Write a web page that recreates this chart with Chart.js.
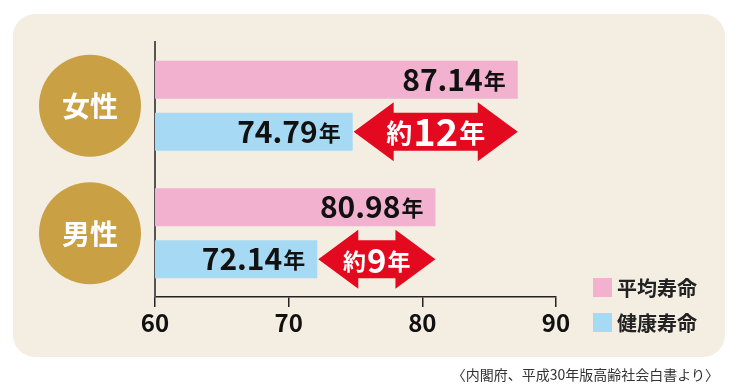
<!DOCTYPE html>
<html>
<head>
<meta charset="utf-8">
<script src="https://cdn.jsdelivr.net/npm/chart.js@4/dist/chart.umd.min.js"></script>
<style>
  html, body { margin: 0; padding: 0; background: #fff; }
  #wrap { position: relative; width: 737px; height: 388px; }
  #note {
    position: absolute; right: 18px; top: 364px;
    font: 14px "Noto Sans CJK JP", sans-serif; color: #333; white-space: nowrap;
  }
</style>
</head>
<body>
<div id="wrap">
  <canvas id="life-bChart" width="737" height="388"></canvas>
  <div id="note">〈内閣府、平成30年版高齢社会白書より〉</div>
</div>
<script>
var genders = ['女性', '男性'];
var seriesNames = ['平均寿命', '健康寿命'];
var avgLife = [87.14, 80.98];
var healthyLife = [74.79, 72.14];
var gapYears = [12, 9];
var xMin = 60, xMax = 90, xStep = 10;

var FONT = '"Noto Sans CJK JP", "Noto Sans", sans-serif';
var PINK = '#f2b2cf';
var BLUE = '#a6d9f3';
var GOLD = '#c9a044';
var RED = '#e3091f';

// beige rounded panel behind everything
var panelPlugin = {
  id: 'panel',
  beforeDraw: function(chart) {
    var ctx = chart.ctx;
    ctx.save();
    ctx.fillStyle = '#f4ede1';
    ctx.beginPath();
    ctx.roundRect(13, 14, 712, 343, 22);
    ctx.fill();
    ctx.restore();
  }
};

function drawValue(ctx, num, right, cy) {
  ctx.textAlign = 'right';
  ctx.textBaseline = 'alphabetic';
  ctx.fillStyle = '#111';
  ctx.font = 'bold 22px ' + FONT;
  ctx.fillText('年', right, cy + 9);
  var w = ctx.measureText('年').width;
  ctx.font = 'bold 30px ' + FONT;
  ctx.fillText(num, right - w - 1, cy + 11);
}

function drawArrow(ctx, x0, x1, cy, shaft, head, headLen) {
  ctx.fillStyle = RED;
  ctx.beginPath();
  ctx.moveTo(x0, cy);
  ctx.lineTo(x0 + headLen, cy - head);
  ctx.lineTo(x0 + headLen, cy - shaft);
  ctx.lineTo(x1 - headLen, cy - shaft);
  ctx.lineTo(x1 - headLen, cy - head);
  ctx.lineTo(x1, cy);
  ctx.lineTo(x1 - headLen, cy + head);
  ctx.lineTo(x1 - headLen, cy + shaft);
  ctx.lineTo(x0 + headLen, cy + shaft);
  ctx.lineTo(x0 + headLen, cy + head);
  ctx.closePath();
  ctx.fill();
}

var decorPlugin = {
  id: 'decor',
  afterDatasetsDraw: function(chart) {
    var ctx = chart.ctx;
    var yScale = chart.scales.y;
    var avgMeta = chart.getDatasetMeta(0);
    var hMeta = chart.getDatasetMeta(1);
    ctx.save();

    // gold circles with gender
    genders.forEach(function(g, i) {
      var cy = yScale.getPixelForValue(i);
      ctx.fillStyle = GOLD;
      ctx.beginPath();
      ctx.arc(90, cy, 51, 0, Math.PI * 2);
      ctx.fill();
      ctx.fillStyle = '#fff';
      ctx.font = 'bold 28px ' + FONT;
      ctx.textAlign = 'center';
      ctx.textBaseline = 'middle';
      ctx.fillText(g, 90, cy + 1);
    });

    // value labels inside bars
    [avgMeta, hMeta].forEach(function(meta, d) {
      var vals = chart.data.datasets[d].data;
      meta.data.forEach(function(bar, i) {
        drawValue(ctx, vals[i].toFixed(2), bar.x - 12, bar.y);
      });
    });

    // red double arrows between healthy and average
    hMeta.data.forEach(function(bar, i) {
      var x0 = bar.x + 1;
      var x1 = avgMeta.data[i].x;
      var cy = bar.y;
      drawArrow(ctx, x0, x1, cy, bar.height / 2, 29.5, 40);

      var big = (x1 - x0) > 150;
      var smallF = big ? 26 : 23;
      var numF = big ? 38 : 33;
      var num = String(gapYears[i]);
      ctx.font = 'bold ' + smallF + 'px ' + FONT;
      var wa = ctx.measureText('約').width;
      var wc = ctx.measureText('年').width;
      ctx.font = 'bold ' + numF + 'px ' + FONT;
      var wb = ctx.measureText(num).width;
      var total = wa + wb + wc + 2;
      var sx = (x0 + x1) / 2 - total / 2;
      ctx.fillStyle = '#fff';
      ctx.textAlign = 'left';
      ctx.textBaseline = 'alphabetic';
      ctx.font = 'bold ' + smallF + 'px ' + FONT;
      ctx.fillText('約', sx, cy + 11);
      ctx.font = 'bold ' + numF + 'px ' + FONT;
      ctx.fillText(num, sx + wa + 1, cy + 14);
      ctx.font = 'bold ' + smallF + 'px ' + FONT;
      ctx.fillText('年', sx + wa + wb + 2, cy + 11);
    });

    // legend, bottom right
    var lx = chart.chartArea.right + 37;
    chart.data.datasets.forEach(function(ds, d) {
      var ly = 278 + d * 35;
      ctx.fillStyle = ds.backgroundColor;
      ctx.fillRect(lx, ly, 19, 19);
      ctx.fillStyle = '#222';
      ctx.font = 'bold 20px ' + FONT;
      ctx.textAlign = 'left';
      ctx.textBaseline = 'middle';
      ctx.fillText(ds.label, lx + 24, ly + 10);
    });

    ctx.restore();
  }
};

var ctx = document.getElementById('life-bChart').getContext('2d');

var lifeChart = new Chart(ctx, {
  type: 'bar',
  data: {
    labels: genders,
    datasets: [
      { label: seriesNames[0], data: avgLife, backgroundColor: PINK },
      { label: seriesNames[1], data: healthyLife, backgroundColor: BLUE }
    ]
  },
  options: {
    indexAxis: 'y',
    responsive: false,
    animation: false,
    categoryPercentage: 0.816,
    barPercentage: 0.731,
    layout: {
      padding: { left: 155, right: 181, top: 42, bottom: 46 }
    },
    plugins: {
      legend: { display: false },  // drawn by hand in the corner
      tooltip: { enabled: false }
    },
    scales: {
      x: {
        min: xMin,
        max: xMax,
        afterFit: function(scale) { scale.height = 45; },
        ticks: {
          stepSize: xStep,
          padding: 1,
          color: '#111',
          font: { family: FONT, size: 24, weight: 'bold' }
        },
        grid: {
          drawOnChartArea: false,
          tickLength: 10,
          color: '#222',
          lineWidth: 1.5
        },
        border: { color: '#222', width: 1.5 }
      },
      y: {
        afterFit: function(scale) { scale.width = 0; },
        ticks: { display: false },
        grid: { display: false },
        border: { color: '#555', width: 2 }
      }
    }
  },
  plugins: [panelPlugin, decorPlugin]
});
</script>
</body>
</html>
